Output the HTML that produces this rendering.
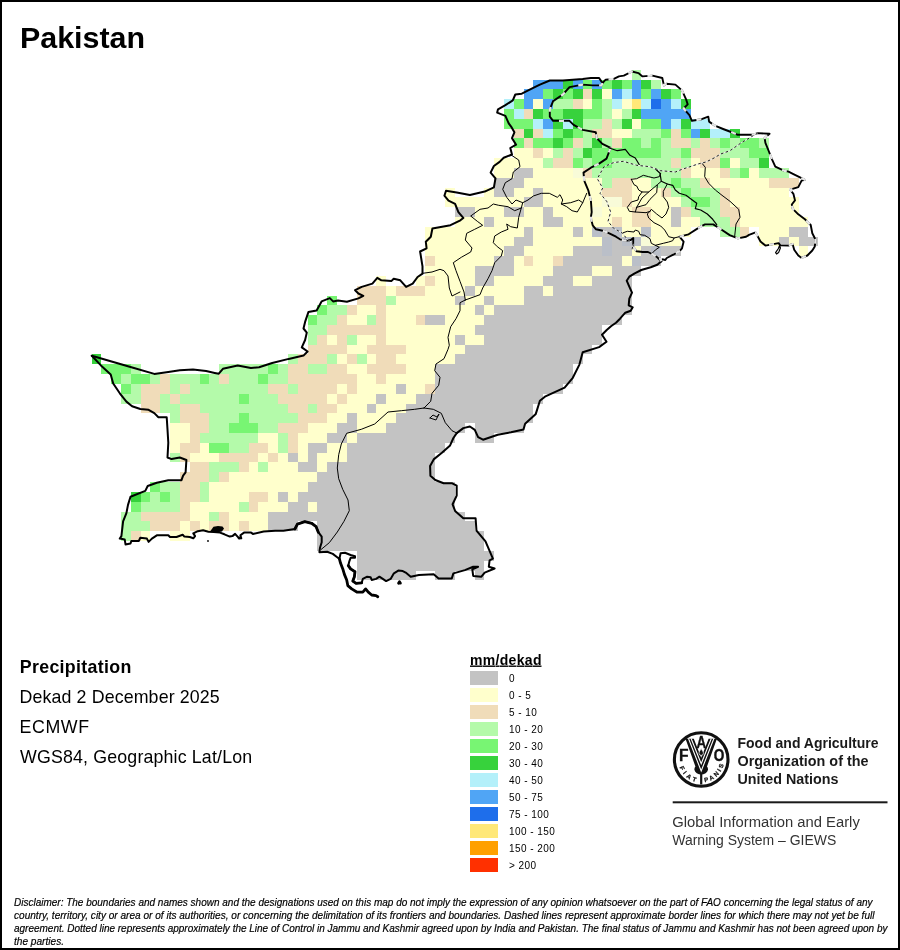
<!DOCTYPE html>
<html><head><meta charset="utf-8"><title>Pakistan</title>
<style>
html,body{margin:0;padding:0;background:#fff}
body{width:900px;height:950px;overflow:hidden;position:relative;font-family:"Liberation Sans",sans-serif}
svg{position:absolute;left:0;top:0;will-change:transform}
text{font-family:"Liberation Sans",sans-serif;fill:#000}
</style></head><body>
<svg width="900" height="950" viewBox="0 0 900 950">
<rect x="0" y="0" width="900" height="950" fill="#fff"/>
<g shape-rendering="crispEdges">
<rect x="632" y="70" width="9" height="10" fill="#b4faaa"/>
<rect x="533" y="80" width="30" height="9" fill="#50a5f5"/>
<rect x="563" y="80" width="10" height="9" fill="#37d23c"/>
<rect x="573" y="80" width="10" height="9" fill="#50a5f5"/>
<rect x="583" y="80" width="9" height="9" fill="#78f573"/>
<rect x="592" y="80" width="10" height="9" fill="#50a5f5"/>
<rect x="602" y="80" width="10" height="9" fill="#78f573"/>
<rect x="612" y="80" width="10" height="9" fill="#37d23c"/>
<rect x="622" y="80" width="10" height="9" fill="#78f573"/>
<rect x="632" y="80" width="9" height="9" fill="#50a5f5"/>
<rect x="641" y="80" width="10" height="9" fill="#37d23c"/>
<rect x="651" y="80" width="10" height="9" fill="#b4faaa"/>
<rect x="524" y="89" width="19" height="10" fill="#50a5f5"/>
<rect x="543" y="89" width="10" height="10" fill="#78f573"/>
<rect x="553" y="89" width="10" height="10" fill="#37d23c"/>
<rect x="563" y="89" width="10" height="10" fill="#78f573"/>
<rect x="573" y="89" width="10" height="10" fill="#37d23c"/>
<rect x="583" y="89" width="9" height="10" fill="#f0dcb9"/>
<rect x="592" y="89" width="10" height="10" fill="#37d23c"/>
<rect x="602" y="89" width="10" height="10" fill="#ffffcc"/>
<rect x="612" y="89" width="10" height="10" fill="#50a5f5"/>
<rect x="622" y="89" width="10" height="10" fill="#b4f0fa"/>
<rect x="632" y="89" width="9" height="10" fill="#50a5f5"/>
<rect x="641" y="89" width="10" height="10" fill="#78f573"/>
<rect x="651" y="89" width="10" height="10" fill="#50a5f5"/>
<rect x="661" y="89" width="10" height="10" fill="#37d23c"/>
<rect x="671" y="89" width="10" height="10" fill="#78f573"/>
<rect x="504" y="99" width="10" height="10" fill="#b4f0fa"/>
<rect x="514" y="99" width="10" height="10" fill="#78f573"/>
<rect x="524" y="99" width="9" height="10" fill="#50a5f5"/>
<rect x="533" y="99" width="10" height="10" fill="#ffffcc"/>
<rect x="543" y="99" width="10" height="10" fill="#50a5f5"/>
<rect x="553" y="99" width="20" height="10" fill="#b4faaa"/>
<rect x="573" y="99" width="10" height="10" fill="#f0dcb9"/>
<rect x="583" y="99" width="9" height="10" fill="#ffffcc"/>
<rect x="592" y="99" width="10" height="10" fill="#78f573"/>
<rect x="602" y="99" width="10" height="10" fill="#b4faaa"/>
<rect x="612" y="99" width="10" height="10" fill="#b4f0fa"/>
<rect x="622" y="99" width="10" height="10" fill="#ffffcc"/>
<rect x="632" y="99" width="9" height="10" fill="#ffe878"/>
<rect x="641" y="99" width="10" height="10" fill="#b4f0fa"/>
<rect x="651" y="99" width="10" height="10" fill="#1e6eeb"/>
<rect x="661" y="99" width="10" height="10" fill="#50a5f5"/>
<rect x="671" y="99" width="10" height="10" fill="#b4f0fa"/>
<rect x="681" y="99" width="10" height="10" fill="#37d23c"/>
<rect x="504" y="109" width="10" height="10" fill="#78f573"/>
<rect x="514" y="109" width="10" height="10" fill="#b4f0fa"/>
<rect x="524" y="109" width="9" height="10" fill="#f0dcb9"/>
<rect x="533" y="109" width="10" height="10" fill="#37d23c"/>
<rect x="543" y="109" width="20" height="10" fill="#78f573"/>
<rect x="563" y="109" width="20" height="10" fill="#37d23c"/>
<rect x="583" y="109" width="19" height="10" fill="#78f573"/>
<rect x="602" y="109" width="10" height="10" fill="#b4faaa"/>
<rect x="612" y="109" width="10" height="10" fill="#ffffcc"/>
<rect x="622" y="109" width="10" height="10" fill="#b4faaa"/>
<rect x="632" y="109" width="9" height="10" fill="#37d23c"/>
<rect x="641" y="109" width="50" height="10" fill="#50a5f5"/>
<rect x="504" y="119" width="29" height="10" fill="#78f573"/>
<rect x="533" y="119" width="10" height="10" fill="#b4f0fa"/>
<rect x="543" y="119" width="10" height="10" fill="#50a5f5"/>
<rect x="553" y="119" width="10" height="10" fill="#37d23c"/>
<rect x="563" y="119" width="10" height="10" fill="#b4f0fa"/>
<rect x="573" y="119" width="10" height="10" fill="#37d23c"/>
<rect x="583" y="119" width="19" height="10" fill="#b4faaa"/>
<rect x="602" y="119" width="10" height="10" fill="#f0dcb9"/>
<rect x="612" y="119" width="10" height="10" fill="#b4faaa"/>
<rect x="622" y="119" width="10" height="10" fill="#37d23c"/>
<rect x="632" y="119" width="9" height="10" fill="#ffffcc"/>
<rect x="641" y="119" width="20" height="10" fill="#78f573"/>
<rect x="661" y="119" width="10" height="10" fill="#50a5f5"/>
<rect x="671" y="119" width="10" height="10" fill="#b4f0fa"/>
<rect x="681" y="119" width="10" height="10" fill="#37d23c"/>
<rect x="691" y="119" width="19" height="10" fill="#b4f0fa"/>
<rect x="514" y="129" width="10" height="9" fill="#f0dcb9"/>
<rect x="524" y="129" width="9" height="9" fill="#37d23c"/>
<rect x="533" y="129" width="10" height="9" fill="#f0dcb9"/>
<rect x="543" y="129" width="10" height="9" fill="#b4f0fa"/>
<rect x="553" y="129" width="10" height="9" fill="#78f573"/>
<rect x="563" y="129" width="10" height="9" fill="#37d23c"/>
<rect x="573" y="129" width="10" height="9" fill="#78f573"/>
<rect x="583" y="129" width="9" height="9" fill="#b4faaa"/>
<rect x="592" y="129" width="20" height="9" fill="#f0dcb9"/>
<rect x="612" y="129" width="20" height="9" fill="#ffffcc"/>
<rect x="632" y="129" width="29" height="9" fill="#b4faaa"/>
<rect x="661" y="129" width="10" height="9" fill="#78f573"/>
<rect x="671" y="129" width="10" height="9" fill="#f0dcb9"/>
<rect x="681" y="129" width="10" height="9" fill="#78f573"/>
<rect x="691" y="129" width="9" height="9" fill="#50a5f5"/>
<rect x="700" y="129" width="10" height="9" fill="#37d23c"/>
<rect x="710" y="129" width="20" height="9" fill="#b4f0fa"/>
<rect x="730" y="129" width="10" height="9" fill="#37d23c"/>
<rect x="514" y="138" width="10" height="10" fill="#78f573"/>
<rect x="524" y="138" width="9" height="10" fill="#f0dcb9"/>
<rect x="533" y="138" width="20" height="10" fill="#78f573"/>
<rect x="553" y="138" width="10" height="10" fill="#37d23c"/>
<rect x="563" y="138" width="10" height="10" fill="#78f573"/>
<rect x="573" y="138" width="10" height="10" fill="#f0dcb9"/>
<rect x="583" y="138" width="9" height="10" fill="#b4faaa"/>
<rect x="592" y="138" width="10" height="10" fill="#37d23c"/>
<rect x="602" y="138" width="10" height="10" fill="#b4faaa"/>
<rect x="612" y="138" width="10" height="10" fill="#f0dcb9"/>
<rect x="622" y="138" width="19" height="10" fill="#78f573"/>
<rect x="641" y="138" width="10" height="10" fill="#b4faaa"/>
<rect x="651" y="138" width="10" height="10" fill="#78f573"/>
<rect x="661" y="138" width="10" height="10" fill="#b4faaa"/>
<rect x="671" y="138" width="20" height="10" fill="#f0dcb9"/>
<rect x="691" y="138" width="9" height="10" fill="#b4faaa"/>
<rect x="700" y="138" width="10" height="10" fill="#f0dcb9"/>
<rect x="710" y="138" width="10" height="10" fill="#b4faaa"/>
<rect x="720" y="138" width="10" height="10" fill="#78f573"/>
<rect x="730" y="138" width="10" height="10" fill="#b4faaa"/>
<rect x="740" y="138" width="19" height="10" fill="#78f573"/>
<rect x="759" y="138" width="10" height="10" fill="#b4faaa"/>
<rect x="514" y="148" width="19" height="10" fill="#ffffcc"/>
<rect x="533" y="148" width="10" height="10" fill="#f0dcb9"/>
<rect x="543" y="148" width="10" height="10" fill="#ffffcc"/>
<rect x="553" y="148" width="10" height="10" fill="#b4faaa"/>
<rect x="563" y="148" width="10" height="10" fill="#f0dcb9"/>
<rect x="573" y="148" width="10" height="10" fill="#b4faaa"/>
<rect x="583" y="148" width="9" height="10" fill="#37d23c"/>
<rect x="592" y="148" width="69" height="10" fill="#78f573"/>
<rect x="661" y="148" width="20" height="10" fill="#b4faaa"/>
<rect x="681" y="148" width="10" height="10" fill="#78f573"/>
<rect x="691" y="148" width="29" height="10" fill="#f0dcb9"/>
<rect x="720" y="148" width="29" height="10" fill="#b4faaa"/>
<rect x="749" y="148" width="20" height="10" fill="#78f573"/>
<rect x="494" y="158" width="49" height="10" fill="#ffffcc"/>
<rect x="543" y="158" width="10" height="10" fill="#b4faaa"/>
<rect x="553" y="158" width="20" height="10" fill="#f0dcb9"/>
<rect x="573" y="158" width="10" height="10" fill="#78f573"/>
<rect x="583" y="158" width="9" height="10" fill="#b4faaa"/>
<rect x="592" y="158" width="20" height="10" fill="#78f573"/>
<rect x="612" y="158" width="59" height="10" fill="#b4faaa"/>
<rect x="671" y="158" width="10" height="10" fill="#f0dcb9"/>
<rect x="681" y="158" width="10" height="10" fill="#b4faaa"/>
<rect x="691" y="158" width="9" height="10" fill="#ffffcc"/>
<rect x="700" y="158" width="20" height="10" fill="#f0dcb9"/>
<rect x="720" y="158" width="10" height="10" fill="#78f573"/>
<rect x="730" y="158" width="10" height="10" fill="#ffffcc"/>
<rect x="740" y="158" width="19" height="10" fill="#b4faaa"/>
<rect x="759" y="158" width="10" height="10" fill="#37d23c"/>
<rect x="494" y="168" width="20" height="10" fill="#ffffcc"/>
<rect x="514" y="168" width="19" height="10" fill="#c3c3c3"/>
<rect x="533" y="168" width="40" height="10" fill="#ffffcc"/>
<rect x="573" y="168" width="10" height="10" fill="#f8fbd8"/>
<rect x="583" y="168" width="9" height="10" fill="#f0dcb9"/>
<rect x="592" y="168" width="89" height="10" fill="#b4faaa"/>
<rect x="681" y="168" width="10" height="10" fill="#f0dcb9"/>
<rect x="691" y="168" width="29" height="10" fill="#ffffcc"/>
<rect x="720" y="168" width="10" height="10" fill="#f0dcb9"/>
<rect x="730" y="168" width="10" height="10" fill="#b4faaa"/>
<rect x="740" y="168" width="9" height="10" fill="#78f573"/>
<rect x="749" y="168" width="10" height="10" fill="#ffffcc"/>
<rect x="759" y="168" width="30" height="10" fill="#b4faaa"/>
<rect x="494" y="178" width="30" height="10" fill="#c3c3c3"/>
<rect x="524" y="178" width="78" height="10" fill="#ffffcc"/>
<rect x="602" y="178" width="10" height="10" fill="#b4faaa"/>
<rect x="612" y="178" width="20" height="10" fill="#f0dcb9"/>
<rect x="632" y="178" width="19" height="10" fill="#ffffcc"/>
<rect x="651" y="178" width="20" height="10" fill="#b4faaa"/>
<rect x="671" y="178" width="10" height="10" fill="#78f573"/>
<rect x="681" y="178" width="19" height="10" fill="#b4faaa"/>
<rect x="700" y="178" width="10" height="10" fill="#f0dcb9"/>
<rect x="710" y="178" width="59" height="10" fill="#ffffcc"/>
<rect x="769" y="178" width="30" height="10" fill="#f0dcb9"/>
<rect x="445" y="188" width="10" height="9" fill="#ffffcc"/>
<rect x="484" y="188" width="10" height="9" fill="#ffffcc"/>
<rect x="494" y="188" width="20" height="9" fill="#c3c3c3"/>
<rect x="514" y="188" width="19" height="9" fill="#ffffcc"/>
<rect x="533" y="188" width="10" height="9" fill="#c3c3c3"/>
<rect x="543" y="188" width="59" height="9" fill="#ffffcc"/>
<rect x="602" y="188" width="30" height="9" fill="#f0dcb9"/>
<rect x="632" y="188" width="29" height="9" fill="#ffffcc"/>
<rect x="661" y="188" width="10" height="9" fill="#f0dcb9"/>
<rect x="671" y="188" width="10" height="9" fill="#b4faaa"/>
<rect x="681" y="188" width="10" height="9" fill="#78f573"/>
<rect x="691" y="188" width="29" height="9" fill="#b4faaa"/>
<rect x="720" y="188" width="10" height="9" fill="#f0dcb9"/>
<rect x="730" y="188" width="59" height="9" fill="#ffffcc"/>
<rect x="445" y="197" width="79" height="10" fill="#ffffcc"/>
<rect x="524" y="197" width="19" height="10" fill="#c3c3c3"/>
<rect x="543" y="197" width="59" height="10" fill="#ffffcc"/>
<rect x="602" y="197" width="20" height="10" fill="#f8fbd8"/>
<rect x="622" y="197" width="10" height="10" fill="#f0dcb9"/>
<rect x="632" y="197" width="49" height="10" fill="#ffffcc"/>
<rect x="681" y="197" width="10" height="10" fill="#b4faaa"/>
<rect x="691" y="197" width="19" height="10" fill="#78f573"/>
<rect x="710" y="197" width="10" height="10" fill="#b4faaa"/>
<rect x="720" y="197" width="10" height="10" fill="#f0dcb9"/>
<rect x="730" y="197" width="69" height="10" fill="#ffffcc"/>
<rect x="455" y="207" width="20" height="10" fill="#c3c3c3"/>
<rect x="475" y="207" width="29" height="10" fill="#ffffcc"/>
<rect x="504" y="207" width="20" height="10" fill="#c3c3c3"/>
<rect x="524" y="207" width="19" height="10" fill="#ffffcc"/>
<rect x="543" y="207" width="10" height="10" fill="#c3c3c3"/>
<rect x="553" y="207" width="39" height="10" fill="#ffffcc"/>
<rect x="592" y="207" width="10" height="10" fill="#f8fbd8"/>
<rect x="602" y="207" width="30" height="10" fill="#ffffcc"/>
<rect x="632" y="207" width="19" height="10" fill="#f0dcb9"/>
<rect x="651" y="207" width="20" height="10" fill="#ffffcc"/>
<rect x="671" y="207" width="10" height="10" fill="#c3c3c3"/>
<rect x="681" y="207" width="10" height="10" fill="#f0dcb9"/>
<rect x="691" y="207" width="29" height="10" fill="#b4faaa"/>
<rect x="720" y="207" width="20" height="10" fill="#f0dcb9"/>
<rect x="740" y="207" width="59" height="10" fill="#ffffcc"/>
<rect x="455" y="217" width="29" height="10" fill="#ffffcc"/>
<rect x="484" y="217" width="10" height="10" fill="#c3c3c3"/>
<rect x="494" y="217" width="49" height="10" fill="#ffffcc"/>
<rect x="543" y="217" width="20" height="10" fill="#c3c3c3"/>
<rect x="563" y="217" width="49" height="10" fill="#ffffcc"/>
<rect x="612" y="217" width="10" height="10" fill="#f0dcb9"/>
<rect x="622" y="217" width="10" height="10" fill="#ffffcc"/>
<rect x="632" y="217" width="19" height="10" fill="#f0dcb9"/>
<rect x="651" y="217" width="20" height="10" fill="#ffffcc"/>
<rect x="671" y="217" width="10" height="10" fill="#c3c3c3"/>
<rect x="681" y="217" width="19" height="10" fill="#ffffcc"/>
<rect x="700" y="217" width="30" height="10" fill="#b4faaa"/>
<rect x="730" y="217" width="10" height="10" fill="#f0dcb9"/>
<rect x="740" y="217" width="68" height="10" fill="#ffffcc"/>
<rect x="425" y="227" width="99" height="10" fill="#ffffcc"/>
<rect x="524" y="227" width="9" height="10" fill="#c3c3c3"/>
<rect x="533" y="227" width="40" height="10" fill="#ffffcc"/>
<rect x="573" y="227" width="10" height="10" fill="#c3c3c3"/>
<rect x="583" y="227" width="9" height="10" fill="#ffffcc"/>
<rect x="592" y="227" width="10" height="10" fill="#babfc8"/>
<rect x="602" y="227" width="10" height="10" fill="#c3c3c3"/>
<rect x="612" y="227" width="10" height="10" fill="#babfc8"/>
<rect x="622" y="227" width="19" height="10" fill="#ffffcc"/>
<rect x="641" y="227" width="10" height="10" fill="#babfc8"/>
<rect x="651" y="227" width="40" height="10" fill="#ffffcc"/>
<rect x="720" y="227" width="20" height="10" fill="#b4faaa"/>
<rect x="740" y="227" width="9" height="10" fill="#f0dcb9"/>
<rect x="759" y="227" width="30" height="10" fill="#ffffcc"/>
<rect x="789" y="227" width="19" height="10" fill="#c3c3c3"/>
<rect x="425" y="237" width="89" height="9" fill="#ffffcc"/>
<rect x="514" y="237" width="19" height="9" fill="#c3c3c3"/>
<rect x="533" y="237" width="69" height="9" fill="#ffffcc"/>
<rect x="602" y="237" width="10" height="9" fill="#babfc8"/>
<rect x="612" y="237" width="10" height="9" fill="#c3c3c3"/>
<rect x="622" y="237" width="19" height="9" fill="#babfc8"/>
<rect x="641" y="237" width="10" height="9" fill="#f8fbd8"/>
<rect x="651" y="237" width="30" height="9" fill="#ffffcc"/>
<rect x="759" y="237" width="20" height="9" fill="#ffffcc"/>
<rect x="779" y="237" width="10" height="9" fill="#c3c3c3"/>
<rect x="789" y="237" width="10" height="9" fill="#ffffcc"/>
<rect x="799" y="237" width="19" height="9" fill="#c3c3c3"/>
<rect x="425" y="246" width="79" height="10" fill="#ffffcc"/>
<rect x="504" y="246" width="20" height="10" fill="#c3c3c3"/>
<rect x="524" y="246" width="49" height="10" fill="#ffffcc"/>
<rect x="573" y="246" width="29" height="10" fill="#c3c3c3"/>
<rect x="602" y="246" width="10" height="10" fill="#babfc8"/>
<rect x="612" y="246" width="20" height="10" fill="#c3c3c3"/>
<rect x="632" y="246" width="9" height="10" fill="#ffffcc"/>
<rect x="641" y="246" width="10" height="10" fill="#c3c3c3"/>
<rect x="651" y="246" width="10" height="10" fill="#babfc8"/>
<rect x="661" y="246" width="20" height="10" fill="#c3c3c3"/>
<rect x="799" y="246" width="9" height="10" fill="#ffffcc"/>
<rect x="425" y="256" width="10" height="10" fill="#f0dcb9"/>
<rect x="435" y="256" width="59" height="10" fill="#ffffcc"/>
<rect x="494" y="256" width="20" height="10" fill="#c3c3c3"/>
<rect x="514" y="256" width="10" height="10" fill="#ffffcc"/>
<rect x="524" y="256" width="9" height="10" fill="#f0dcb9"/>
<rect x="533" y="256" width="20" height="10" fill="#ffffcc"/>
<rect x="553" y="256" width="10" height="10" fill="#f0dcb9"/>
<rect x="563" y="256" width="59" height="10" fill="#c3c3c3"/>
<rect x="622" y="256" width="10" height="10" fill="#ffffcc"/>
<rect x="632" y="256" width="9" height="10" fill="#babfc8"/>
<rect x="641" y="256" width="20" height="10" fill="#c3c3c3"/>
<rect x="425" y="266" width="50" height="10" fill="#ffffcc"/>
<rect x="475" y="266" width="39" height="10" fill="#c3c3c3"/>
<rect x="514" y="266" width="39" height="10" fill="#ffffcc"/>
<rect x="553" y="266" width="39" height="10" fill="#c3c3c3"/>
<rect x="592" y="266" width="20" height="10" fill="#ffffcc"/>
<rect x="612" y="266" width="29" height="10" fill="#c3c3c3"/>
<rect x="376" y="276" width="10" height="10" fill="#ffffcc"/>
<rect x="416" y="276" width="9" height="10" fill="#ffffcc"/>
<rect x="425" y="276" width="10" height="10" fill="#f0dcb9"/>
<rect x="435" y="276" width="40" height="10" fill="#ffffcc"/>
<rect x="475" y="276" width="19" height="10" fill="#c3c3c3"/>
<rect x="494" y="276" width="49" height="10" fill="#ffffcc"/>
<rect x="543" y="276" width="30" height="10" fill="#c3c3c3"/>
<rect x="573" y="276" width="19" height="10" fill="#ffffcc"/>
<rect x="592" y="276" width="40" height="10" fill="#c3c3c3"/>
<rect x="357" y="286" width="29" height="10" fill="#f0dcb9"/>
<rect x="386" y="286" width="10" height="10" fill="#ffffcc"/>
<rect x="396" y="286" width="29" height="10" fill="#f0dcb9"/>
<rect x="425" y="286" width="40" height="10" fill="#ffffcc"/>
<rect x="465" y="286" width="10" height="10" fill="#c3c3c3"/>
<rect x="475" y="286" width="49" height="10" fill="#ffffcc"/>
<rect x="524" y="286" width="19" height="10" fill="#c3c3c3"/>
<rect x="543" y="286" width="10" height="10" fill="#ffffcc"/>
<rect x="553" y="286" width="79" height="10" fill="#c3c3c3"/>
<rect x="327" y="296" width="10" height="9" fill="#78f573"/>
<rect x="357" y="296" width="29" height="9" fill="#f0dcb9"/>
<rect x="386" y="296" width="10" height="9" fill="#b4faaa"/>
<rect x="396" y="296" width="59" height="9" fill="#ffffcc"/>
<rect x="455" y="296" width="10" height="9" fill="#c3c3c3"/>
<rect x="465" y="296" width="19" height="9" fill="#ffffcc"/>
<rect x="484" y="296" width="10" height="9" fill="#c3c3c3"/>
<rect x="494" y="296" width="30" height="9" fill="#ffffcc"/>
<rect x="524" y="296" width="108" height="9" fill="#c3c3c3"/>
<rect x="317" y="305" width="10" height="10" fill="#78f573"/>
<rect x="327" y="305" width="20" height="10" fill="#b4faaa"/>
<rect x="347" y="305" width="10" height="10" fill="#f0dcb9"/>
<rect x="357" y="305" width="19" height="10" fill="#ffffcc"/>
<rect x="376" y="305" width="10" height="10" fill="#f0dcb9"/>
<rect x="386" y="305" width="89" height="10" fill="#ffffcc"/>
<rect x="475" y="305" width="9" height="10" fill="#c3c3c3"/>
<rect x="484" y="305" width="10" height="10" fill="#ffffcc"/>
<rect x="494" y="305" width="138" height="10" fill="#c3c3c3"/>
<rect x="308" y="315" width="9" height="10" fill="#78f573"/>
<rect x="317" y="315" width="20" height="10" fill="#b4faaa"/>
<rect x="337" y="315" width="10" height="10" fill="#f0dcb9"/>
<rect x="347" y="315" width="20" height="10" fill="#ffffcc"/>
<rect x="367" y="315" width="9" height="10" fill="#b4faaa"/>
<rect x="376" y="315" width="10" height="10" fill="#f0dcb9"/>
<rect x="386" y="315" width="30" height="10" fill="#ffffcc"/>
<rect x="416" y="315" width="9" height="10" fill="#f0dcb9"/>
<rect x="425" y="315" width="20" height="10" fill="#c3c3c3"/>
<rect x="445" y="315" width="39" height="10" fill="#ffffcc"/>
<rect x="484" y="315" width="138" height="10" fill="#c3c3c3"/>
<rect x="308" y="325" width="19" height="10" fill="#b4faaa"/>
<rect x="327" y="325" width="59" height="10" fill="#f0dcb9"/>
<rect x="386" y="325" width="89" height="10" fill="#ffffcc"/>
<rect x="475" y="325" width="127" height="10" fill="#c3c3c3"/>
<rect x="308" y="335" width="9" height="10" fill="#b4faaa"/>
<rect x="317" y="335" width="10" height="10" fill="#f0dcb9"/>
<rect x="327" y="335" width="10" height="10" fill="#ffffcc"/>
<rect x="337" y="335" width="10" height="10" fill="#f0dcb9"/>
<rect x="347" y="335" width="10" height="10" fill="#b4faaa"/>
<rect x="357" y="335" width="19" height="10" fill="#ffffcc"/>
<rect x="376" y="335" width="10" height="10" fill="#f0dcb9"/>
<rect x="386" y="335" width="69" height="10" fill="#ffffcc"/>
<rect x="455" y="335" width="10" height="10" fill="#c3c3c3"/>
<rect x="465" y="335" width="19" height="10" fill="#ffffcc"/>
<rect x="484" y="335" width="118" height="10" fill="#c3c3c3"/>
<rect x="308" y="345" width="39" height="9" fill="#f0dcb9"/>
<rect x="347" y="345" width="20" height="9" fill="#ffffcc"/>
<rect x="367" y="345" width="39" height="9" fill="#f0dcb9"/>
<rect x="406" y="345" width="59" height="9" fill="#ffffcc"/>
<rect x="465" y="345" width="127" height="9" fill="#c3c3c3"/>
<rect x="92" y="354" width="9" height="10" fill="#37d23c"/>
<rect x="288" y="354" width="10" height="10" fill="#b4faaa"/>
<rect x="298" y="354" width="29" height="10" fill="#f0dcb9"/>
<rect x="327" y="354" width="10" height="10" fill="#b4faaa"/>
<rect x="337" y="354" width="10" height="10" fill="#ffffcc"/>
<rect x="347" y="354" width="10" height="10" fill="#f0dcb9"/>
<rect x="357" y="354" width="10" height="10" fill="#b4faaa"/>
<rect x="367" y="354" width="9" height="10" fill="#ffffcc"/>
<rect x="376" y="354" width="20" height="10" fill="#f0dcb9"/>
<rect x="396" y="354" width="59" height="10" fill="#ffffcc"/>
<rect x="455" y="354" width="128" height="10" fill="#c3c3c3"/>
<rect x="101" y="364" width="30" height="10" fill="#78f573"/>
<rect x="131" y="364" width="10" height="10" fill="#b4faaa"/>
<rect x="219" y="364" width="49" height="10" fill="#b4faaa"/>
<rect x="268" y="364" width="10" height="10" fill="#78f573"/>
<rect x="278" y="364" width="10" height="10" fill="#b4faaa"/>
<rect x="288" y="364" width="20" height="10" fill="#f0dcb9"/>
<rect x="308" y="364" width="19" height="10" fill="#b4faaa"/>
<rect x="327" y="364" width="20" height="10" fill="#f0dcb9"/>
<rect x="347" y="364" width="20" height="10" fill="#ffffcc"/>
<rect x="367" y="364" width="39" height="10" fill="#f0dcb9"/>
<rect x="406" y="364" width="29" height="10" fill="#ffffcc"/>
<rect x="435" y="364" width="138" height="10" fill="#c3c3c3"/>
<rect x="111" y="374" width="10" height="10" fill="#78f573"/>
<rect x="121" y="374" width="10" height="10" fill="#b4faaa"/>
<rect x="131" y="374" width="19" height="10" fill="#78f573"/>
<rect x="150" y="374" width="10" height="10" fill="#b4faaa"/>
<rect x="160" y="374" width="10" height="10" fill="#f0dcb9"/>
<rect x="170" y="374" width="30" height="10" fill="#b4faaa"/>
<rect x="200" y="374" width="9" height="10" fill="#78f573"/>
<rect x="209" y="374" width="10" height="10" fill="#b4faaa"/>
<rect x="219" y="374" width="10" height="10" fill="#f0dcb9"/>
<rect x="229" y="374" width="29" height="10" fill="#b4faaa"/>
<rect x="258" y="374" width="10" height="10" fill="#78f573"/>
<rect x="268" y="374" width="20" height="10" fill="#b4faaa"/>
<rect x="288" y="374" width="69" height="10" fill="#f0dcb9"/>
<rect x="357" y="374" width="19" height="10" fill="#ffffcc"/>
<rect x="376" y="374" width="10" height="10" fill="#f0dcb9"/>
<rect x="386" y="374" width="49" height="10" fill="#ffffcc"/>
<rect x="435" y="374" width="138" height="10" fill="#c3c3c3"/>
<rect x="121" y="384" width="10" height="10" fill="#78f573"/>
<rect x="131" y="384" width="10" height="10" fill="#b4faaa"/>
<rect x="141" y="384" width="29" height="10" fill="#f0dcb9"/>
<rect x="170" y="384" width="10" height="10" fill="#b4faaa"/>
<rect x="180" y="384" width="10" height="10" fill="#f0dcb9"/>
<rect x="190" y="384" width="78" height="10" fill="#b4faaa"/>
<rect x="268" y="384" width="20" height="10" fill="#f0dcb9"/>
<rect x="288" y="384" width="10" height="10" fill="#b4faaa"/>
<rect x="298" y="384" width="39" height="10" fill="#f0dcb9"/>
<rect x="337" y="384" width="10" height="10" fill="#ffffcc"/>
<rect x="347" y="384" width="10" height="10" fill="#f0dcb9"/>
<rect x="357" y="384" width="39" height="10" fill="#ffffcc"/>
<rect x="396" y="384" width="10" height="10" fill="#c3c3c3"/>
<rect x="406" y="384" width="19" height="10" fill="#ffffcc"/>
<rect x="425" y="384" width="10" height="10" fill="#f0dcb9"/>
<rect x="435" y="384" width="128" height="10" fill="#c3c3c3"/>
<rect x="121" y="394" width="20" height="10" fill="#b4faaa"/>
<rect x="141" y="394" width="19" height="10" fill="#f0dcb9"/>
<rect x="160" y="394" width="10" height="10" fill="#b4faaa"/>
<rect x="170" y="394" width="10" height="10" fill="#f0dcb9"/>
<rect x="180" y="394" width="59" height="10" fill="#b4faaa"/>
<rect x="239" y="394" width="10" height="10" fill="#78f573"/>
<rect x="249" y="394" width="29" height="10" fill="#b4faaa"/>
<rect x="278" y="394" width="49" height="10" fill="#f0dcb9"/>
<rect x="327" y="394" width="10" height="10" fill="#ffffcc"/>
<rect x="337" y="394" width="10" height="10" fill="#f0dcb9"/>
<rect x="347" y="394" width="29" height="10" fill="#ffffcc"/>
<rect x="376" y="394" width="10" height="10" fill="#c3c3c3"/>
<rect x="386" y="394" width="30" height="10" fill="#ffffcc"/>
<rect x="416" y="394" width="127" height="10" fill="#c3c3c3"/>
<rect x="141" y="404" width="19" height="9" fill="#f0dcb9"/>
<rect x="160" y="404" width="20" height="9" fill="#b4faaa"/>
<rect x="180" y="404" width="20" height="9" fill="#f0dcb9"/>
<rect x="200" y="404" width="88" height="9" fill="#b4faaa"/>
<rect x="288" y="404" width="20" height="9" fill="#f0dcb9"/>
<rect x="308" y="404" width="9" height="9" fill="#b4faaa"/>
<rect x="317" y="404" width="20" height="9" fill="#f0dcb9"/>
<rect x="337" y="404" width="30" height="9" fill="#ffffcc"/>
<rect x="367" y="404" width="9" height="9" fill="#c3c3c3"/>
<rect x="376" y="404" width="30" height="9" fill="#ffffcc"/>
<rect x="406" y="404" width="127" height="9" fill="#c3c3c3"/>
<rect x="170" y="413" width="10" height="10" fill="#b4faaa"/>
<rect x="180" y="413" width="29" height="10" fill="#f0dcb9"/>
<rect x="209" y="413" width="30" height="10" fill="#b4faaa"/>
<rect x="239" y="413" width="10" height="10" fill="#78f573"/>
<rect x="249" y="413" width="49" height="10" fill="#b4faaa"/>
<rect x="298" y="413" width="29" height="10" fill="#f0dcb9"/>
<rect x="327" y="413" width="20" height="10" fill="#ffffcc"/>
<rect x="347" y="413" width="10" height="10" fill="#c3c3c3"/>
<rect x="357" y="413" width="39" height="10" fill="#ffffcc"/>
<rect x="396" y="413" width="137" height="10" fill="#c3c3c3"/>
<rect x="170" y="423" width="20" height="10" fill="#ffffcc"/>
<rect x="190" y="423" width="19" height="10" fill="#f0dcb9"/>
<rect x="209" y="423" width="20" height="10" fill="#b4faaa"/>
<rect x="229" y="423" width="29" height="10" fill="#78f573"/>
<rect x="258" y="423" width="20" height="10" fill="#b4faaa"/>
<rect x="278" y="423" width="30" height="10" fill="#f0dcb9"/>
<rect x="308" y="423" width="29" height="10" fill="#ffffcc"/>
<rect x="337" y="423" width="20" height="10" fill="#c3c3c3"/>
<rect x="357" y="423" width="29" height="10" fill="#ffffcc"/>
<rect x="386" y="423" width="79" height="10" fill="#c3c3c3"/>
<rect x="475" y="423" width="49" height="10" fill="#c3c3c3"/>
<rect x="170" y="433" width="20" height="10" fill="#ffffcc"/>
<rect x="190" y="433" width="10" height="10" fill="#f0dcb9"/>
<rect x="200" y="433" width="58" height="10" fill="#b4faaa"/>
<rect x="258" y="433" width="20" height="10" fill="#ffffcc"/>
<rect x="278" y="433" width="10" height="10" fill="#b4faaa"/>
<rect x="288" y="433" width="10" height="10" fill="#f0dcb9"/>
<rect x="298" y="433" width="29" height="10" fill="#ffffcc"/>
<rect x="327" y="433" width="20" height="10" fill="#c3c3c3"/>
<rect x="347" y="433" width="10" height="10" fill="#ffffcc"/>
<rect x="357" y="433" width="98" height="10" fill="#c3c3c3"/>
<rect x="475" y="433" width="19" height="10" fill="#c3c3c3"/>
<rect x="170" y="443" width="10" height="10" fill="#ffffcc"/>
<rect x="180" y="443" width="20" height="10" fill="#f0dcb9"/>
<rect x="200" y="443" width="9" height="10" fill="#ffffcc"/>
<rect x="209" y="443" width="20" height="10" fill="#78f573"/>
<rect x="229" y="443" width="20" height="10" fill="#b4faaa"/>
<rect x="249" y="443" width="19" height="10" fill="#f0dcb9"/>
<rect x="268" y="443" width="10" height="10" fill="#ffffcc"/>
<rect x="278" y="443" width="10" height="10" fill="#b4faaa"/>
<rect x="288" y="443" width="10" height="10" fill="#f0dcb9"/>
<rect x="298" y="443" width="10" height="10" fill="#ffffcc"/>
<rect x="308" y="443" width="19" height="10" fill="#c3c3c3"/>
<rect x="327" y="443" width="20" height="10" fill="#ffffcc"/>
<rect x="347" y="443" width="98" height="10" fill="#c3c3c3"/>
<rect x="170" y="453" width="10" height="9" fill="#b4faaa"/>
<rect x="180" y="453" width="10" height="9" fill="#f0dcb9"/>
<rect x="190" y="453" width="29" height="9" fill="#ffffcc"/>
<rect x="219" y="453" width="39" height="9" fill="#f0dcb9"/>
<rect x="258" y="453" width="10" height="9" fill="#ffffcc"/>
<rect x="268" y="453" width="10" height="9" fill="#f0dcb9"/>
<rect x="278" y="453" width="10" height="9" fill="#ffffcc"/>
<rect x="288" y="453" width="10" height="9" fill="#c3c3c3"/>
<rect x="298" y="453" width="10" height="9" fill="#ffffcc"/>
<rect x="308" y="453" width="9" height="9" fill="#c3c3c3"/>
<rect x="317" y="453" width="30" height="9" fill="#ffffcc"/>
<rect x="347" y="453" width="88" height="9" fill="#c3c3c3"/>
<rect x="190" y="462" width="19" height="10" fill="#f0dcb9"/>
<rect x="209" y="462" width="30" height="10" fill="#b4faaa"/>
<rect x="239" y="462" width="10" height="10" fill="#f0dcb9"/>
<rect x="249" y="462" width="9" height="10" fill="#ffffcc"/>
<rect x="258" y="462" width="10" height="10" fill="#b4faaa"/>
<rect x="268" y="462" width="30" height="10" fill="#ffffcc"/>
<rect x="298" y="462" width="19" height="10" fill="#c3c3c3"/>
<rect x="317" y="462" width="10" height="10" fill="#ffffcc"/>
<rect x="327" y="462" width="108" height="10" fill="#c3c3c3"/>
<rect x="180" y="472" width="29" height="10" fill="#f0dcb9"/>
<rect x="209" y="472" width="10" height="10" fill="#b4faaa"/>
<rect x="219" y="472" width="10" height="10" fill="#f0dcb9"/>
<rect x="229" y="472" width="88" height="10" fill="#ffffcc"/>
<rect x="317" y="472" width="118" height="10" fill="#c3c3c3"/>
<rect x="150" y="482" width="10" height="10" fill="#78f573"/>
<rect x="160" y="482" width="20" height="10" fill="#b4faaa"/>
<rect x="180" y="482" width="20" height="10" fill="#f0dcb9"/>
<rect x="200" y="482" width="9" height="10" fill="#b4faaa"/>
<rect x="209" y="482" width="99" height="10" fill="#ffffcc"/>
<rect x="308" y="482" width="147" height="10" fill="#c3c3c3"/>
<rect x="131" y="492" width="10" height="10" fill="#37d23c"/>
<rect x="141" y="492" width="9" height="10" fill="#78f573"/>
<rect x="150" y="492" width="10" height="10" fill="#b4faaa"/>
<rect x="160" y="492" width="10" height="10" fill="#78f573"/>
<rect x="170" y="492" width="10" height="10" fill="#b4faaa"/>
<rect x="180" y="492" width="20" height="10" fill="#f0dcb9"/>
<rect x="200" y="492" width="9" height="10" fill="#b4faaa"/>
<rect x="209" y="492" width="40" height="10" fill="#ffffcc"/>
<rect x="249" y="492" width="19" height="10" fill="#f0dcb9"/>
<rect x="268" y="492" width="10" height="10" fill="#ffffcc"/>
<rect x="278" y="492" width="10" height="10" fill="#c3c3c3"/>
<rect x="288" y="492" width="10" height="10" fill="#ffffcc"/>
<rect x="298" y="492" width="157" height="10" fill="#c3c3c3"/>
<rect x="131" y="502" width="10" height="10" fill="#78f573"/>
<rect x="141" y="502" width="39" height="10" fill="#b4faaa"/>
<rect x="180" y="502" width="10" height="10" fill="#f0dcb9"/>
<rect x="190" y="502" width="49" height="10" fill="#ffffcc"/>
<rect x="239" y="502" width="10" height="10" fill="#b4faaa"/>
<rect x="249" y="502" width="9" height="10" fill="#f0dcb9"/>
<rect x="258" y="502" width="30" height="10" fill="#ffffcc"/>
<rect x="288" y="502" width="20" height="10" fill="#c3c3c3"/>
<rect x="308" y="502" width="9" height="10" fill="#ffffcc"/>
<rect x="317" y="502" width="138" height="10" fill="#c3c3c3"/>
<rect x="121" y="512" width="20" height="9" fill="#b4faaa"/>
<rect x="141" y="512" width="49" height="9" fill="#f0dcb9"/>
<rect x="190" y="512" width="19" height="9" fill="#ffffcc"/>
<rect x="209" y="512" width="10" height="9" fill="#b4faaa"/>
<rect x="219" y="512" width="10" height="9" fill="#f0dcb9"/>
<rect x="229" y="512" width="39" height="9" fill="#ffffcc"/>
<rect x="268" y="512" width="197" height="9" fill="#c3c3c3"/>
<rect x="121" y="521" width="29" height="10" fill="#b4faaa"/>
<rect x="150" y="521" width="30" height="10" fill="#f0dcb9"/>
<rect x="180" y="521" width="10" height="10" fill="#ffffcc"/>
<rect x="190" y="521" width="10" height="10" fill="#f0dcb9"/>
<rect x="200" y="521" width="9" height="10" fill="#ffffcc"/>
<rect x="209" y="521" width="20" height="10" fill="#f0dcb9"/>
<rect x="229" y="521" width="10" height="10" fill="#ffffcc"/>
<rect x="239" y="521" width="10" height="10" fill="#f0dcb9"/>
<rect x="249" y="521" width="19" height="10" fill="#ffffcc"/>
<rect x="268" y="521" width="30" height="10" fill="#c3c3c3"/>
<rect x="317" y="521" width="158" height="10" fill="#c3c3c3"/>
<rect x="121" y="531" width="10" height="10" fill="#b4faaa"/>
<rect x="131" y="531" width="10" height="10" fill="#f0dcb9"/>
<rect x="141" y="531" width="9" height="10" fill="#ffffcc"/>
<rect x="170" y="531" width="20" height="10" fill="#ffffcc"/>
<rect x="317" y="531" width="167" height="10" fill="#c3c3c3"/>
<rect x="317" y="541" width="167" height="10" fill="#c3c3c3"/>
<rect x="357" y="551" width="137" height="10" fill="#c3c3c3"/>
<rect x="357" y="561" width="127" height="10" fill="#c3c3c3"/>
<rect x="357" y="571" width="59" height="9" fill="#c3c3c3"/>
<rect x="435" y="571" width="20" height="9" fill="#c3c3c3"/>
<rect x="475" y="571" width="9" height="9" fill="#c3c3c3"/>
</g>
<g fill="none" stroke="#000" stroke-linejoin="round" stroke-linecap="round">
<polyline stroke-width="2" points="602.4,83.0 599.1,78.0 590.9,78.0 582.7,78.9 572.8,79.7 562.9,80.5 549.8,80.5 539.9,84.6 531.7,88.7 521.8,93.7 515.3,94.5 512.8,100.3 505.4,105.2 498.0,109.3 497.2,112.6 505.4,115.9 508.7,123.3 511.1,126.6 514.4,132.3 512.0,138.1 516.1,144.7 510.3,148.0 512.0,154.5 503.7,157.8 499.6,161.9 493.9,166.0 490.6,172.6 495.5,178.4 493.9,187.4 484.7,191.6 469.9,194.9 456.7,192.4 446.0,190.8 444.4,195.7 448.5,200.6 455.1,203.9 458.4,212.1 463.3,217.9 460.4,220.3 450.5,225.2 432.4,228.5 430.8,236.7 425.8,241.7 426.6,248.3 420.1,251.5 422.5,266.3 422.5,273.7 417.6,277.0 412.7,283.6 406.1,286.9 400.3,280.3 393.7,278.7 391.3,281.1 381.4,280.3 377.3,277.9 372.4,283.6 361.7,286.9 355.1,290.2 358.4,293.5 363.3,295.9 358.4,298.4 346.9,301.7 338.0,300.5 333.1,301.4 329.8,298.1 321.6,301.4 316.6,310.4 308.4,312.1 305.1,321.9 303.5,328.5 306.8,332.6 305.1,340.0 301.8,347.4 307.6,351.5 303.5,355.6 288.7,358.9 272.2,363.0 259.1,367.2 250.9,368.0 237.7,365.5 222.9,368.8 218.8,373.7 214.7,372.9 206.1,371.1 193.0,369.5 179.8,370.3 168.3,372.0 154.3,373.9 130.5,367.0 110.7,361.3 91.8,355.8"/>
<polyline stroke-width="2" points="91.8,355.8 100.9,365.4 110.7,374.4 113.2,383.5 119.8,393.3 126.4,401.6 132.1,406.2 140.3,409.0 148.6,409.8 154.3,413.1 158.4,417.2 166.7,417.2 167.5,429.5 168.3,442.7 167.5,457.5 171.6,459.1 179.8,457.5 186.4,460.0 185.6,472.3 183.1,475.6 181.5,480.2 168.3,480.2 156.8,482.7 147.7,486.0 145.3,490.9 130.5,496.7 128.0,504.9 126.4,513.1 123.1,521.3 121.4,536.1 119.8,538.6 124.7,539.4 125.5,544.4 130.5,543.5 131.3,541.1 138.7,541.1 140.3,537.8 146.9,538.6 148.6,541.9 151.9,538.6 156.8,535.3 168.3,535.3 170.0,537.0 176.5,537.0 182.7,534.8 184.4,536.6 189.8,537.0 193.3,538.3 195.1,536.1 193.3,533.4 197.8,531.2 203.1,530.3 208.4,531.7 213.8,532.1 220.0,532.6 224.4,534.3 229.8,536.6 232.4,536.1 235.1,533.9 238.7,537.9 241.3,538.3 240.4,535.2 244.0,532.6 251.1,532.6 252.9,533.9 263.7,531.5 275.2,530.7 283.4,530.7 294.9,529.0 297.4,524.1 304.8,521.6 312.2,523.3 316.1,526.7 318.3,532.2 321.7,536.7 321.7,542.2 320.0,547.8 319.4,552.2 327.2,551.7 332.8,553.9 337.2,557.2 339.4,558.9 340.6,553.3 345.0,552.8 350.6,555.0 355.0,556.1 355.0,557.8 350.6,557.8 349.4,561.1 348.3,565.6 350.6,568.9 355.0,571.7 354.4,576.7 352.8,581.1 356.1,583.3 361.7,582.8 362.8,578.9 367.2,576.7 370.6,577.2 371.7,580.0 376.1,578.9 379.4,576.7 382.8,578.9 386.1,581.1 390.6,578.9 393.9,573.3 398.3,570.6 402.8,571.1 405.7,572.6 410.7,576.7 418.9,575.1 433.7,574.2 438.6,578.4 451.8,578.4 453.4,573.4 464.9,570.1 473.2,566.8 478.1,566.8 472.3,569.3 473.2,575.9 481.4,576.7 484.7,572.6 494.6,568.5 488.8,566.8 489.6,560.3 492.9,558.6 485.5,541.3 476.5,530.7 475.6,518.3 463.3,518.3 455.1,510.9 452.6,504.3 456.7,495.6 456.7,485.7 451.8,483.2 443.6,483.2 435.3,480.0 430.4,475.8 430.1,466.0 433.7,459.4 441.9,452.8 450.1,445.4 453.4,438.0 456.7,433.1 463.3,428.1 469.9,426.5 474.8,429.8 478.1,437.2 483.0,439.7 497.8,434.7 511.0,432.3 523.5,429.6 525.1,423.8 535.8,413.9 539.9,400.8 544.9,396.7 564.6,387.6 572.8,377.8 579.4,364.6 582.7,352.3 599.1,347.1 606.5,341.8 602.0,334.7 606.7,330.0 611.3,326.0 616.0,322.7 620.0,318.7 625.3,312.7 630.7,310.7 632.7,307.3 628.7,305.3 629.3,298.7 632.0,292.7 629.3,286.7 626.7,280.7 629.3,276.7 634.7,273.3 641.3,270.0 650.7,267.3 657.3,264.7 661.3,261.3"/>
<polyline stroke-width="2.8" points="339.4,558.9 340.6,563.3 342.8,568.9 344.4,574.4 346.7,580.0 347.8,585.6 351.7,588.9 357.2,592.2 362.8,592.2 365.6,588.9 368.3,592.2 371.7,595.0 376.1,595.6 377.8,596.7"/>
<polyline stroke-width="2.8" points="348.3,565.6 350.6,568.9 355.0,571.7 354.4,576.7 352.8,581.1 356.1,583.3 361.7,582.8"/>
<polyline stroke-width="2.8" points="294.9,529.0 297.4,524.1 304.8,521.6 311.7,523.3 316.1,526.7 318.3,532.2"/>
<polyline stroke-width="2.8" points="398.6,583.2 400.4,583.2 399.5,581.8 398.6,583.2"/>
<path fill="#000" stroke="none" d="M210.4,531 L213.5,526.8 L218,526 L222.5,526.4 L224,528.5 L222,531.5 L216,532.5 Z"/><circle cx="208" cy="541" r="0.9" fill="#000" stroke="none"/><circle cx="239.3" cy="538" r="1.6" fill="#000" stroke="none"/>
<path stroke-width="1.2" d="M779.6,245.5 L778.4,248.5 L775.6,252.6 L776.6,254 L778.6,252.6 L780.4,248 Z"/>
<polyline stroke-width="1.9" points="602.4,83.0 601.6,85.4 592.6,85.4 582.7,84.6 569.5,87.1 562.9,94.5 553.1,101.1 549.8,109.3 549.8,116.7 553.1,120.8 569.5,120.8 573.6,124.9 582.7,129.9 595.8,132.3 596.7,138.1 602.4,143.8 610.6,147.9 606.5,158.6 599.1,163.6 590.9,167.7 583.5,172.6 584.3,180.8 588.4,190.7 590.9,200.6 591.7,212.1 590.9,217.0 591.3,220.0 592.7,225.3 596.0,229.3 602.7,230.7 609.3,233.3 616.0,236.7 620.0,239.3 625.3,240.7 630.7,240.0 633.3,238.0 633.1,246.7 636.7,251.3 642.7,252.0 648.0,252.0 652.0,254.0 657.3,257.3 661.3,261.3"/>
<polyline stroke-width="1.9" points="661.3,261.3 660.0,258.7 665.3,260.0 666.7,258.0 673.3,254.7 680.0,250.7 682.0,248.3 683.6,241.7 679.5,236.7 688.6,234.3 700.1,226.9 705.0,224.4 713.2,224.4 719.8,228.5 729.7,235.1 737.9,238.4 746.1,236.7 749.0,234.9 755.6,232.4 760.5,241.5 765.4,245.6 778.6,243.1 780.3,245.4 788.5,245.6 792.6,244.0 794.2,249.7 798.3,255.5 801.6,257.9 807.4,255.5 812.3,250.5 814.8,246.4 815.6,239.8 812.3,233.3 810.7,225.0 804.9,219.3 798.3,214.3 792.6,208.6 791.8,204.5 795.0,200.4 793.4,193.8 790.1,189.7 798.3,187.2 801.6,180.6 804.9,179.8 800.0,177.3 793.4,174.1 788.5,171.6 784.4,170.8 775.3,166.7 772.0,159.3 768.7,151.0 765.4,142.8 764.6,137.9 769.6,133.8 757.6,133.1 752.7,134.8 746.1,134.8 737.9,134.8 729.7,131.5 723.1,129.0 714.9,125.7 709.1,121.6 708.3,116.7 701.7,119.2 691.9,120.8 689.4,115.1 683.6,108.5 687.7,104.4 686.1,99.4 682.0,90.4 675.4,84.6 666.4,83.8 663.9,85.4 662.3,78.0 652.4,75.6 642.5,76.4 638.4,73.1 632.0,71.5 623.8,75.6 618.9,76.4 613.9,78.9 605.7,79.7 602.4,83.0"/>
<polyline stroke-width="2.2" stroke="#e6e6e6" stroke-dasharray="5 16" stroke-linecap="butt" points="602.4,83.0 601.6,85.4 592.6,85.4 582.7,84.6 569.5,87.1 562.9,94.5 553.1,101.1 549.8,109.3 549.8,116.7 553.1,120.8 569.5,120.8 573.6,124.9 582.7,129.9 595.8,132.3 596.7,138.1 602.4,143.8 610.6,147.9 606.5,158.6 599.1,163.6 590.9,167.7 583.5,172.6 584.3,180.8 588.4,190.7 590.9,200.6 591.7,212.1 590.9,217.0 591.3,220.0 592.7,225.3 596.0,229.3 602.7,230.7 609.3,233.3 616.0,236.7 620.0,239.3 625.3,240.7 630.7,240.0 633.3,238.0 633.1,246.7 636.7,251.3 642.7,252.0 648.0,252.0 652.0,254.0 657.3,257.3 661.3,261.3"/>
<polyline stroke-width="2.2" stroke="#e6e6e6" stroke-dasharray="5 16" stroke-linecap="butt" points="661.3,261.3 660.0,258.7 665.3,260.0 666.7,258.0 673.3,254.7 680.0,250.7 682.0,248.3 683.6,241.7 679.5,236.7 688.6,234.3 700.1,226.9 705.0,224.4 713.2,224.4 719.8,228.5 729.7,235.1 737.9,238.4 746.1,236.7 749.0,234.9 755.6,232.4 760.5,241.5 765.4,245.6 778.6,243.1 780.3,245.4 788.5,245.6 792.6,244.0 794.2,249.7 798.3,255.5 801.6,257.9 807.4,255.5 812.3,250.5 814.8,246.4 815.6,239.8 812.3,233.3 810.7,225.0 804.9,219.3 798.3,214.3 792.6,208.6 791.8,204.5 795.0,200.4 793.4,193.8 790.1,189.7 798.3,187.2 801.6,180.6 804.9,179.8 800.0,177.3 793.4,174.1 788.5,171.6 784.4,170.8 775.3,166.7 772.0,159.3 768.7,151.0 765.4,142.8 764.6,137.9 769.6,133.8 757.6,133.1 752.7,134.8 746.1,134.8 737.9,134.8 729.7,131.5 723.1,129.0 714.9,125.7 709.1,121.6 708.3,116.7 701.7,119.2 691.9,120.8 689.4,115.1 683.6,108.5 687.7,104.4 686.1,99.4 682.0,90.4 675.4,84.6 666.4,83.8 663.9,85.4 662.3,78.0 652.4,75.6 642.5,76.4 638.4,73.1 632.0,71.5 623.8,75.6 618.9,76.4 613.9,78.9 605.7,79.7 602.4,83.0"/>
<polyline stroke-width="1.0" points="321.3,549.3 329.3,542.7 337.3,532.0 344.0,521.3 349.3,510.7 348.0,500.0 342.7,489.3 338.7,478.7 337.3,468.0 338.7,454.7 341.3,444.0 346.7,433.3 361.3,429.3 374.7,424.0 388.0,412.0 401.3,410.7 414.7,409.3 424.0,408.0"/>
<polyline stroke-width="1.0" points="424.0,408.0 430.7,401.3 432.0,393.3 438.7,385.3 440.0,377.3 434.7,370.7 436.0,364.0 444.0,358.7 448.0,349.3 449.3,345.3 448.0,337.3 450.7,326.7 456.0,318.7 460.0,310.7 460.0,302.7 465.3,300.0"/>
<polyline stroke-width="1.0" points="424.0,408.0 433.3,409.3 441.3,413.3 445.3,422.7 452.0,430.7 457.3,433.3"/>
<polyline stroke-width="1.0" points="430.0,418.0 433.0,415.0 437.0,417.0 439.0,414.0 436.0,420.0 430.0,418.0"/>
<polyline stroke-width="1.0" points="521.3,208.0 518.7,217.3 517.3,228.0 510.7,226.7 506.7,224.0 508.0,229.3 501.3,232.0 494.7,236.0 493.3,242.7 497.3,246.7 502.7,250.7 501.3,256.0 494.7,262.7 492.0,270.7 488.0,278.7 482.7,288.0 480.0,294.7 465.3,300.0"/>
<polyline stroke-width="1.0" points="510.7,154.7 518.7,160.0 520.0,166.7 513.3,172.0 512.0,178.7 505.3,182.7 502.7,189.3 506.7,197.3 512.0,204.0 516.0,200.0 522.7,202.7 521.3,208.0 514.7,210.7 508.0,206.7 498.7,205.3 493.3,204.0 488.0,208.0 480.0,209.3 470.7,216.0 477.3,221.3 482.7,225.3 474.7,229.3 466.7,233.3 465.3,240.0 472.0,248.0 470.7,252.0 461.3,257.3 453.3,262.7 456.0,270.7 460.0,281.3 464.0,292.0 465.3,300.0"/>
<polyline stroke-width="1.0" points="422.7,273.3 432.0,272.0 440.0,269.3 444.0,270.7 448.0,276.0 449.3,288.0 452.0,296.0 460.0,292.0"/>
<polyline stroke-width="1.0" points="522.7,202.7 528.0,200.0 533.3,196.0 541.3,193.3 549.3,193.3 557.3,197.3 560.0,194.7 562.7,200.0 561.3,204.0 570.7,202.7 578.7,200.0 582.7,202.7 586.7,193.3"/>
<polyline stroke-width="1.0" points="582.7,202.7 577.3,212.0 572.0,210.7 566.7,206.7 561.3,204.0"/>
<polyline stroke-width="1.2" points="609.3,148.0 617.3,150.7 625.3,149.3 630.0,155.3 635.3,158.0 639.3,164.7"/>
<polyline stroke-width="1.2" points="655.3,168.7 660.0,173.3 661.3,181.3 667.3,184.0 672.7,185.3 675.3,190.0 679.3,193.3 686.0,195.3 691.3,199.3 696.7,203.3 695.3,208.7 700.7,210.0 707.3,214.0 712.7,219.3 716.7,224.7"/>
<polyline stroke-width="1.0" points="631.3,179.3 636.7,178.7 643.3,175.3 648.7,176.7 654.0,178.0 659.3,176.7 660.7,173.3"/>
<polyline stroke-width="1.0" points="631.3,179.3 634.0,184.7 636.7,186.0 638.7,190.0 642.0,192.0 648.7,192.0 657.3,184.7 661.3,181.3"/>
<polyline stroke-width="1.0" points="657.3,185.3 656.7,192.7 650.0,199.3 646.0,204.7 636.7,207.3"/>
<polyline stroke-width="1.0" points="648.7,192.0 642.0,198.0 636.7,207.3"/>
<polyline stroke-width="1.0" points="642.0,192.0 638.7,196.7 638.0,200.0 631.3,202.0 627.3,207.3 629.3,211.3 635.3,212.0 636.7,207.3"/>
<polyline stroke-width="1.0" points="667.3,184.0 663.3,191.3 663.3,196.7 667.3,202.0 668.7,207.3 666.0,214.0 662.0,218.0 656.7,214.0 651.3,209.3 650.0,211.3 647.3,214.0 648.7,218.0 654.0,222.7 660.7,226.0 664.7,230.0 668.7,236.7 674.0,238.0"/>
<polyline stroke-width="1.0" points="635.3,212.0 646.0,212.7 650.0,211.3"/>
<polyline stroke-width="1.0" points="623.3,232.7 627.3,231.3 634.0,232.0 635.3,230.0 638.7,231.3 640.0,234.7 644.7,235.3 650.0,238.7 651.3,243.3 655.3,245.3 663.3,243.3 668.7,242.0 672.7,240.7 674.0,238.0 679.3,236.7"/>
<polyline stroke-width="1.0" points="655.3,245.3 659.3,247.3 655.3,250.0 652.7,252.7"/>
<polyline stroke-width="1.0" points="702.0,163.3 705.3,167.3 704.7,176.7 708.7,183.3 715.3,190.0 722.0,195.3 730.0,201.3 738.7,209.3 740.0,217.3 736.0,224.0 734.7,236.0"/>
<polyline stroke-width="1" stroke="#ececec" points="632.0,249.3 633.3,244.0 626.7,238.7 622.7,233.3 613.3,228.0 608.0,221.3 610.7,212.0 606.7,201.3 600.0,193.3 602.7,188.0 597.3,178.7 604.0,166.7 613.3,162.7 623.3,161.3 630.0,163.3 636.7,165.3 643.3,166.0 650.0,166.7 655.3,168.7 660.7,170.7 667.3,171.3 675.3,172.0 682.0,169.3 690.0,166.7 698.0,164.0 706.0,162.0 714.0,158.0 720.7,154.0 730.0,150.7 741.3,142.7 757.3,133.3"/>
<polyline stroke-width="1" stroke="#222" stroke-dasharray="2.5 2.5" stroke-linecap="butt" points="632.0,249.3 633.3,244.0 626.7,238.7 622.7,233.3 613.3,228.0 608.0,221.3 610.7,212.0 606.7,201.3 600.0,193.3 602.7,188.0 597.3,178.7 604.0,166.7 613.3,162.7 623.3,161.3 630.0,163.3 636.7,165.3 643.3,166.0 650.0,166.7 655.3,168.7 660.7,170.7 667.3,171.3 675.3,172.0 682.0,169.3 690.0,166.7 698.0,164.0 706.0,162.0 714.0,158.0 720.7,154.0 730.0,150.7 741.3,142.7 757.3,133.3"/>
</g>
<rect x="1" y="1" width="898" height="948" fill="none" stroke="#000" stroke-width="2"/>
<g opacity="0.996">
<text x="20" y="48" font-size="30.4" font-weight="bold">Pakistan</text>
<text x="19.8" y="673" font-size="17.8" font-weight="bold" textLength="111.5">Precipitation</text>
<text x="19.5" y="702.6" font-size="17.8" textLength="200.2">Dekad 2 December 2025</text>
<text x="19.5" y="732.6" font-size="17.8" textLength="69.6">ECMWF</text>
<text x="20" y="762.6" font-size="17.8" textLength="232.1">WGS84, Geographic Lat/Lon</text>
<text x="470" y="664.5" font-size="14" font-weight="bold" text-decoration="underline" textLength="71.5">mm/dekad</text>
<rect x="470" y="671" width="28" height="14" fill="#c3c3c3"/><text x="509" y="682.2" font-size="10" letter-spacing="0.45">0</text>
<rect x="470" y="688" width="28" height="14" fill="#ffffcc"/><text x="509" y="699.2" font-size="10" letter-spacing="0.45">0 - 5</text>
<rect x="470" y="705" width="28" height="14" fill="#f0dcb9"/><text x="509" y="716.2" font-size="10" letter-spacing="0.45">5 - 10</text>
<rect x="470" y="722" width="28" height="14" fill="#b4faaa"/><text x="509" y="733.2" font-size="10" letter-spacing="0.45">10 - 20</text>
<rect x="470" y="739" width="28" height="14" fill="#78f573"/><text x="509" y="750.2" font-size="10" letter-spacing="0.45">20 - 30</text>
<rect x="470" y="756" width="28" height="14" fill="#37d23c"/><text x="509" y="767.2" font-size="10" letter-spacing="0.45">30 - 40</text>
<rect x="470" y="773" width="28" height="14" fill="#b4f0fa"/><text x="509" y="784.2" font-size="10" letter-spacing="0.45">40 - 50</text>
<rect x="470" y="790" width="28" height="14" fill="#50a5f5"/><text x="509" y="801.2" font-size="10" letter-spacing="0.45">50 - 75</text>
<rect x="470" y="807" width="28" height="14" fill="#1e6eeb"/><text x="509" y="818.2" font-size="10" letter-spacing="0.45">75 - 100</text>
<rect x="470" y="824" width="28" height="14" fill="#ffe878"/><text x="509" y="835.2" font-size="10" letter-spacing="0.45">100 - 150</text>
<rect x="470" y="841" width="28" height="14" fill="#ffa000"/><text x="509" y="852.2" font-size="10" letter-spacing="0.45">150 - 200</text>
<rect x="470" y="858" width="28" height="14" fill="#ff3000"/><text x="509" y="869.2" font-size="10" letter-spacing="0.45">> 200</text>
<g id="fao">
<circle cx="701.2" cy="759.5" r="26.8" fill="#fff" stroke="#111" stroke-width="3.1"/>
<path fill="#111" d="M685.5,738.8 L693.8,738.8 L701.2,757.8 L708.6,738.8 L716.9,738.8 L707,766.5 A6.8,5.2 0 1 1 695.4,766.5 Z"/>
<polyline fill="none" stroke="#fff" stroke-width="1.1" points="688.5,738.5 701.2,771 713.9,738.5"/>
<polyline fill="none" stroke="#fff" stroke-width="1.1" points="691.1,738.5 701.2,763.8 711.3,738.5"/>
<rect x="700.1" y="773" width="2.2" height="11.5" fill="#111"/>
<path fill="#111" stroke="#fff" stroke-width="0.7" d="M701.2,748.6 C702.2,750.5 703.4,751.8 703.4,753.2 A2.2,2.2 0 0 1 699,753.2 C699,751.8 700.2,750.5 701.2,748.6 Z"/>
<g font-family="'Liberation Sans',sans-serif" font-weight="bold" fill="#111">
<text x="679" y="760.5" font-size="15.6" stroke="#111" stroke-width="0.3" style="fill:#111">F</text>
<text x="701.25" y="748.1" font-size="15.6" text-anchor="middle" textLength="9.6" lengthAdjust="spacingAndGlyphs" stroke="#111" stroke-width="0.3" style="fill:#111">A</text>
<text x="719" y="760.6" font-size="15.8" text-anchor="middle" textLength="10.6" lengthAdjust="spacingAndGlyphs" stroke="#111" stroke-width="0.4" style="fill:#111">O</text>
<path id="arcF" d="M679.59,767.37 A23.00,23.00 0 0 0 696.03,781.91" fill="none"/><path id="arcP" d="M704.80,782.22 A23.00,23.00 0 0 0 723.70,764.28" fill="none"/>
<text font-size="6.1" stroke="#111" stroke-width="0.25" style="fill:#111"><textPath href="#arcF" textLength="22.4" lengthAdjust="spacing">FIAT</textPath></text>
<text font-size="6.1" stroke="#111" stroke-width="0.25" style="fill:#111"><textPath href="#arcP" textLength="27.2" lengthAdjust="spacing">PANIS</textPath></text>
</g></g>
<g font-weight="bold" font-size="13.9" fill="#1a1a1a">
<text x="737.5" y="748" textLength="141" lengthAdjust="spacingAndGlyphs" style="fill:#1a1a1a">Food and Agriculture</text>
<text x="737.5" y="765.9" textLength="131" lengthAdjust="spacingAndGlyphs" style="fill:#1a1a1a">Organization of the</text>
<text x="737.5" y="783.5" textLength="101" lengthAdjust="spacingAndGlyphs" style="fill:#1a1a1a">United Nations</text>
</g>
<rect x="672.7" y="801.3" width="214.8" height="2" fill="#1a1a1a"/>
<g font-size="14">
<text x="672.3" y="826.6" textLength="187.5" lengthAdjust="spacingAndGlyphs" style="fill:#333">Global Information and Early</text>
<text x="672.3" y="845" textLength="164" lengthAdjust="spacingAndGlyphs" style="fill:#333">Warning System – GIEWS</text>
</g>
<g font-size="11" font-style="italic" stroke="#000" stroke-width="0.2">
<text x="14" y="906" textLength="858.5" lengthAdjust="spacingAndGlyphs">Disclaimer: The boundaries and names shown and the designations used on this map do not imply the expression of any opinion whatsoever on the part of FAO concerning the legal status of any</text>
<text x="14" y="918.9" textLength="860.5" lengthAdjust="spacingAndGlyphs">country, territory, city or area or of its authorities, or concerning the delimitation of its frontiers and boundaries. Dashed lines represent approximate border lines for which there may not yet be full</text>
<text x="14" y="931.9" textLength="873.5" lengthAdjust="spacingAndGlyphs">agreement. Dotted line represents approximately the Line of Control in Jammu and Kashmir agreed upon by India and Pakistan. The final status of Jammu and Kashmir has not been agreed upon by</text>
<text x="14" y="945" textLength="50" lengthAdjust="spacingAndGlyphs">the parties.</text>
</g>
</g>
</svg>
</body></html>
